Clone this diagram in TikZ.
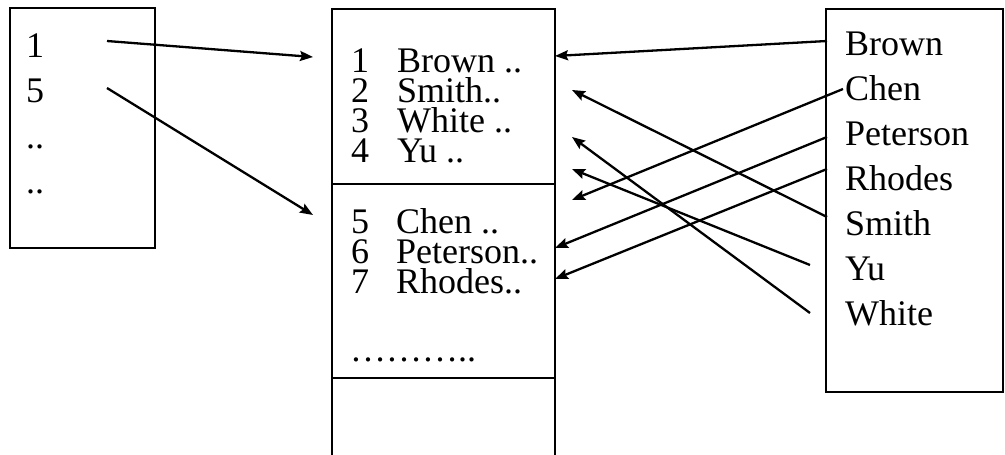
\documentclass[tikz,border=0pt]{standalone}
\usepackage{fontspec}
\setmainfont{Liberation Serif}
\usetikzlibrary{arrows.meta}
\begin{document}
\begin{tikzpicture}[x=1pt,y=-1pt,
  boxline/.style={draw=black,line width=2.4pt},
  arr/.style={line width=2.3pt,-{Stealth[length=13pt,width=10pt,inset=2pt]}},
  txt/.style={anchor=base west,inner sep=0pt,font=\fontsize{36}{36}\selectfont}]
\useasboundingbox (0,0) rectangle (1005,455);
% boxes
\draw[boxline] (10,8) rectangle (155,248);
\draw[boxline] (332,470) -- (332,9) -- (555,9) -- (555,470);
\draw[boxline] (332,184) -- (555,184);
\draw[boxline] (332,378) -- (555,378);
\draw[boxline] (826,9) rectangle (1003,392);
% left text
\node[txt] (l1) at (26,57) {1};
\node[txt] (l5) at (26,102) {5};
\node[txt] (ld1) at (26,148) {..};
\node[txt] (ld2) at (26,193) {..};
% middle text
\node[txt] (md1) at (351,72) {1};
\node[txt] (mn1) at (397,72) {Brown ..};
\node[txt] (md2) at (351,102) {2};
\node[txt] (mn2) at (397,102) {Smith..};
\node[txt] (md3) at (351,132) {3};
\node[txt] (mn3) at (397,132) {White ..};
\node[txt] (md4) at (351,162) {4};
\node[txt] (mn4) at (397,162) {Yu ..};
\node[txt] (md5) at (351,233) {5};
\node[txt] (mn5) at (396,233) {Chen ..};
\node[txt] (md6) at (351,263) {6};
\node[txt] (mn6) at (396,263) {Peterson..};
\node[txt] (md7) at (351,293) {7};
\node[txt] (mn7) at (396,293) {Rhodes..};
\node[txt] (mdots) at (350,361) {………..};
% right text
\node[txt] (rBrown) at (845,55) {Brown};
\node[txt] (rChen) at (845,100) {Chen};
\node[txt] (rPeterson) at (845,145) {Peterson};
\node[txt] (rRhodes) at (845,190) {Rhodes};
\node[txt] (rSmith) at (845,235) {Smith};
\node[txt] (rYu) at (845,280) {Yu};
\node[txt] (rWhite) at (845,325) {White};
% connector end points
\coordinate (s1) at (107,41);   \coordinate (t1) at (313,57);
\coordinate (s5) at (107,88);   \coordinate (t5) at (313,215);
\coordinate (sBrown) at (827,41);    \coordinate (tBrown) at (555,56);
\coordinate (sSmith) at (827,217);   \coordinate (tSmith) at (572,90);
\coordinate (sChen) at (843,89);     \coordinate (tChen) at (572,200);
\coordinate (sPeterson) at (827,137);\coordinate (tPeterson) at (555,248);
\coordinate (sRhodes) at (827,169);  \coordinate (tRhodes) at (555,279);
\coordinate (sYu) at (810,265);      \coordinate (tYu) at (572,169);
\coordinate (sWhite) at (810,313);   \coordinate (tWhite) at (572,137);
% connectors
\draw[arr] (s1) -- (t1);
\draw[arr] (s5) -- (t5);
\draw[arr] (sBrown) -- (tBrown);
\draw[arr] (sSmith) -- (tSmith);
\draw[arr] (sChen) -- (tChen);
\draw[arr] (sPeterson) -- (tPeterson);
\draw[arr] (sRhodes) -- (tRhodes);
\draw[arr] (sYu) -- (tYu);
\draw[arr] (sWhite) -- (tWhite);
\end{tikzpicture}
\end{document}
